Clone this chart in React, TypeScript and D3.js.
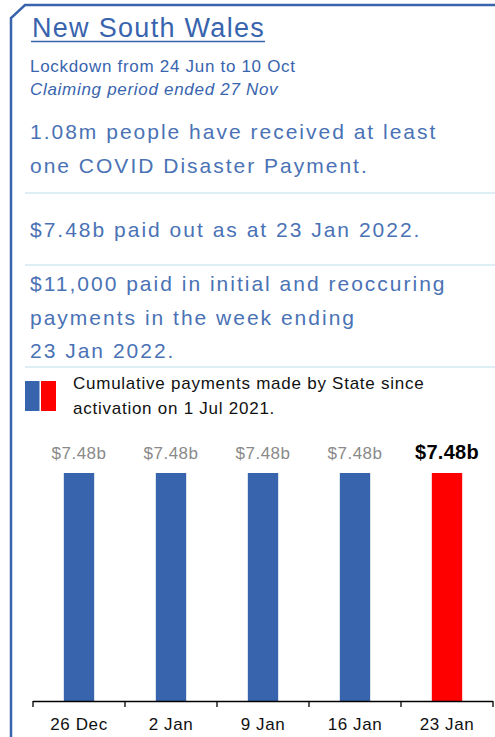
import { useEffect, useRef } from "react"
import * as d3 from "d3"

const weeks = ["26 Dec", "2 Jan", "9 Jan", "16 Jan", "23 Jan"]
const payments = [7.48, 7.48, 7.48, 7.48, 7.48]
const valueLabels = ["$7.48b", "$7.48b", "$7.48b", "$7.48b", "$7.48b"]

const headline = ["1.08m people have received at least", "one COVID Disaster Payment."]
const paidOut = ["$7.48b paid out as at 23 Jan 2022."]
const weekly = ["$11,000 paid in initial and reoccuring", "payments in the week ending", "23 Jan 2022."]
const legendText = ["Cumulative payments made by State since", "activation on 1 Jul 2021."]

const BLUE = "#3864ae"
const RED = "#ff0000"
const FONT = "Arial, 'Liberation Sans', sans-serif"

export default function App() {
  const svgRef = useRef<SVGSVGElement>(null)

  useEffect(() => {
    if (!svgRef.current) return
    const svg = d3.select(svgRef.current)
    svg.selectAll("*").remove()

    // frame with the cut corner
    svg.append("path")
      .attr("d", "M495,5 L25,5 L11,18 L11,737")
      .attr("fill", "none")
      .attr("stroke", BLUE)
      .attr("stroke-width", 2.5)

    svg.append("text")
      .attr("x", 32).attr("y", 37)
      .attr("font-family", FONT).attr("font-size", 27)
      .attr("letter-spacing", 1.3)
      .attr("fill", BLUE)
      .text("New South Wales")
    svg.append("line")
      .attr("x1", 31).attr("x2", 265).attr("y1", 41.5).attr("y2", 41.5)
      .attr("stroke", BLUE).attr("stroke-width", 1.6)

    svg.append("text")
      .attr("x", 30).attr("y", 72)
      .attr("font-family", FONT).attr("font-size", 17)
      .attr("letter-spacing", 0.7)
      .attr("fill", BLUE)
      .text("Lockdown from 24 Jun to 10 Oct")
    svg.append("text")
      .attr("x", 30).attr("y", 95)
      .attr("font-family", FONT).attr("font-size", 17)
      .attr("letter-spacing", 0.7)
      .attr("font-style", "italic")
      .attr("fill", BLUE)
      .text("Claiming period ended 27 Nov")

    const block = (lines: string[], y0: number) => {
      lines.forEach((t, i) => {
        svg.append("text")
          .attr("x", 30).attr("y", y0 + i * 33.5)
          .attr("font-family", FONT).attr("font-size", 21)
          .attr("letter-spacing", 2)
          .attr("fill", "#4a72b5")
          .text(t)
      })
    }
    block(headline, 139)
    block(paidOut, 237)
    block(weekly, 291)

    ;[193, 265, 367].forEach((y) => {
      svg.append("line")
        .attr("x1", 25).attr("x2", 495).attr("y1", y).attr("y2", y)
        .attr("stroke", "#d2e8f2").attr("stroke-width", 1.5)
    })

    // legend swatches
    svg.append("rect").attr("x", 25).attr("y", 381).attr("width", 14.5).attr("height", 30).attr("fill", BLUE)
    svg.append("rect").attr("x", 41).attr("y", 381).attr("width", 15).attr("height", 30).attr("fill", RED)
    legendText.forEach((t, i) => {
      svg.append("text")
        .attr("x", 73).attr("y", 389 + i * 25)
        .attr("font-family", FONT).attr("font-size", 17)
        .attr("letter-spacing", 0.75)
        .attr("fill", "#111")
        .text(t)
    })

    // bar chart
    const x = d3.scaleBand<string>().domain(weeks).range([33, 493]).paddingInner(0.67).paddingOuter(0.335)
    const y = d3.scaleLinear().domain([0, d3.max(payments) as number]).range([701, 473])
    const last = weeks.length - 1

    svg.append("g")
      .selectAll("rect")
      .data(payments)
      .join("rect")
      .attr("x", (_, i) => x(weeks[i]) as number)
      .attr("y", (d) => y(d))
      .attr("width", x.bandwidth())
      .attr("height", (d) => y(0) - y(d))
      .attr("fill", (_, i) => (i === last ? RED : BLUE))

    svg.append("g")
      .selectAll("text")
      .data(payments)
      .join("text")
      .attr("x", (_, i) => (x(weeks[i]) as number) + x.bandwidth() / 2)
      .attr("y", (d) => y(d) - 14)
      .attr("text-anchor", "middle")
      .attr("font-family", FONT)
      .attr("font-size", (_, i) => (i === last ? 20 : 17))
      .attr("letter-spacing", (_, i) => (i === last ? 0.3 : 0.5))
      .attr("font-weight", (_, i) => (i === last ? "bold" : "normal"))
      .attr("fill", (_, i) => (i === last ? "#000" : "#8a8a8a"))
      .text((_, i) => valueLabels[i])

    // axis with ticks at band edges
    const step = x.step()
    const axis = svg.append("g")
    axis.append("line")
      .attr("x1", 33).attr("x2", 493).attr("y1", 701.5).attr("y2", 701.5)
      .attr("stroke", "#000").attr("stroke-width", 1.3)
    d3.range(weeks.length + 1).forEach((i) => {
      const tx = 33 + i * step
      axis.append("line")
        .attr("x1", tx).attr("x2", tx).attr("y1", 701).attr("y2", 707)
        .attr("stroke", "#000").attr("stroke-width", 1.3)
    })
    axis.selectAll("text.tick")
      .data(weeks)
      .join("text")
      .attr("class", "tick")
      .attr("x", (d) => (x(d) as number) + x.bandwidth() / 2)
      .attr("y", 730)
      .attr("text-anchor", "middle")
      .attr("font-family", FONT)
      .attr("font-size", 17)
      .attr("letter-spacing", 0.6)
      .attr("fill", "#111")
      .text((d) => d)
  }, [])

  return (
    <svg
      ref={svgRef}
      width={495}
      height={737}
      style={{ position: "absolute", left: 0, top: 0, background: "#fff" }}
    />
  )
}
